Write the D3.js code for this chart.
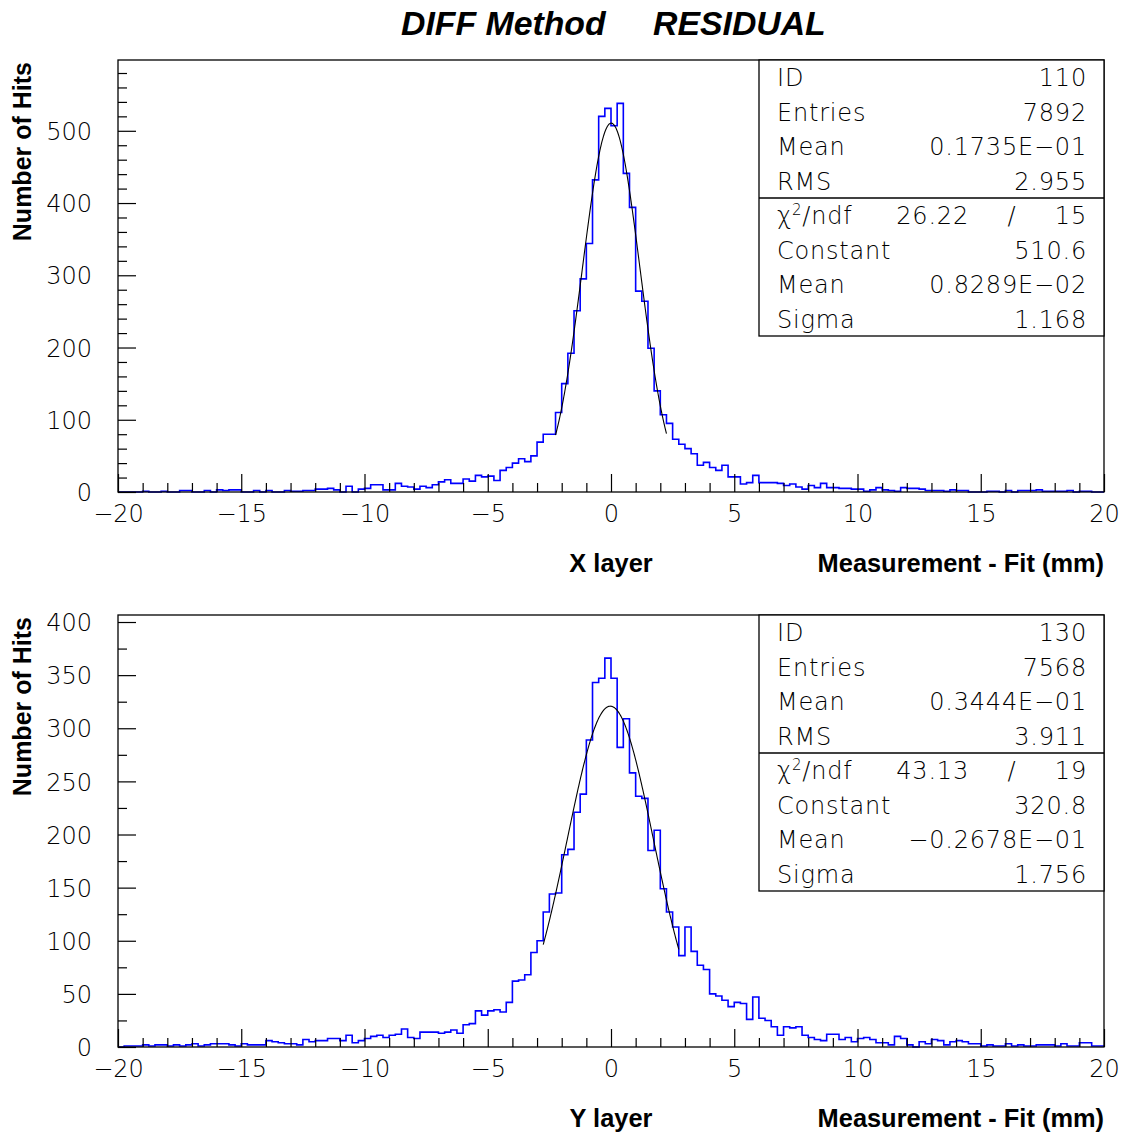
<!DOCTYPE html>
<html>
<head>
<meta charset="utf-8">
<script src="https://cdn.jsdelivr.net/npm/d3@7"></script>
<style>
  body { margin: 0; background: #fff; }
  svg { display: block; }
</style>
</head>
<body>
<script>
// Residual histograms: 160 bins of 0.25 mm between -20 and 20 mm
const binLow = -20, binHigh = 20, binWidth = 0.25;

const xLayerCounts = [
  0,0,0,0,1,0,0,1,0,0,
  2,2,0,0,2,0,3,2,3,3,
  0,0,2,0,2,0,0,2,1,1,
  2,2,4,4,5,3,0,8,0,4,
  5,10,10,3,3,12,8,7,4,8,
  6,10,14,17,12,12,18,15,23,21,
  22,16,30,34,40,46,42,50,69,80,
  80,110,150,192,251,295,344,432,520,531,
  507,538,441,394,278,264,199,140,107,95,
  73,66,60,53,37,41,34,30,37,21,
  21,11,13,23,13,13,13,12,9,11,
  7,4,9,6,12,6,6,5,5,4,
  4,1,3,6,3,2,1,6,5,5,
  4,2,2,2,1,3,2,2,0,0,
  0,1,1,0,2,0,2,2,2,3,
  1,1,1,1,2,0,1,1,0,0
];

const yLayerCounts = [
  0,1,1,1,2,1,2,2,1,2,
  1,2,3,1,2,3,3,3,2,1,
  3,2,2,2,6,5,4,3,3,2,
  7,5,6,6,8,8,6,11,4,6,
  8,10,11,9,11,12,17,9,8,14,
  14,14,13,14,16,13,21,22,34,30,
  34,35,33,42,62,63,68,89,100,127,
  144,145,181,186,221,238,289,343,347,366,
  347,282,309,258,236,234,185,204,149,127,
  113,86,113,90,77,73,50,48,44,38,
  42,41,26,47,27,25,19,11,19,18,
  19,11,9,7,6,12,12,7,9,5,
  8,9,7,4,4,2,10,8,2,0,
  5,3,7,6,2,5,6,5,3,3,
  1,2,1,1,3,1,2,1,1,2,
  2,2,1,3,1,1,4,4,1,1
];

// Axis ticks
const xMajorTicks = [-20, -15, -10, -5, 0, 5, 10, 15, 20];
const xMinorTicks = d3.range(-19, 20, 1).filter(v => v % 5 !== 0);
const xLayerYTicks = [0, 100, 200, 300, 400, 500];
const xLayerYMinor = d3.range(20, 600, 20).filter(v => v % 100 !== 0);
const yLayerYTicks = [0, 50, 100, 150, 200, 250, 300, 350, 400];
const yLayerYMinor = d3.range(25, 400, 50);

// Statistics boxes
const xLayerStatNames  = ["ID", "Entries", "Mean", "RMS"];
const xLayerStatValues = ["110", "7892", "0.1735E\u221201", "2.955"];
const yLayerStatNames  = ["ID", "Entries", "Mean", "RMS"];
const yLayerStatValues = ["130", "7568", "0.3444E\u221201", "3.911"];

// Gaussian fits: constant, mean, sigma and fit range
const fitNames = ["Constant", "Mean", "Sigma"];
const xLayerFit = [510.6, 0.8289e-2, 1.168];
const xLayerFitText = ["510.6", "0.8289E\u221202", "1.168"];
const xLayerChi2 = ["26.22", "15"];
const xLayerFitRange = [-2.25, 2.25];
const yLayerFit = [320.8, -0.2678e-1, 1.756];
const yLayerFitText = ["320.8", "\u22120.2678E\u221201", "1.756"];
const yLayerChi2 = ["43.13", "19"];
const yLayerFitRange = [-2.75, 2.75];

const W = 1128, H = 1135;
const svg = d3.select("body").append("svg")
  .attr("width", W).attr("height", H)
  .attr("viewBox", `0 0 ${W} ${H}`);

const numFont = "'DejaVu Sans', sans-serif";
const boldFont = "'Liberation Sans', Arial, Helvetica, sans-serif";

// Title
svg.append("text")
  .attr("x", 401).attr("y", 35)
  .attr("font-family", boldFont).attr("font-weight", "bold").attr("font-style", "italic")
  .attr("font-size", 33.8).text("DIFF Method");
svg.append("text")
  .attr("x", 653).attr("y", 35)
  .attr("font-family", boldFont).attr("font-weight", "bold").attr("font-style", "italic")
  .attr("font-size", 33.8).text("RESIDUAL");

function drawPanel(p) {
  const left = 118, right = 1104;
  const x = d3.scaleLinear().domain([binLow, binHigh]).range([left, right]);
  const y = d3.scaleLinear().domain([0, p.yMax]).range([p.bottom, p.top]);
  const g = svg.append("g");

  // histogram outline
  const edges = d3.range(p.counts.length + 1).map(i => binLow + i * binWidth);
  const pts = [[edges[0], 0]];
  p.counts.forEach((c, i) => { pts.push([edges[i], c]); pts.push([edges[i + 1], c]); });
  pts.push([edges[edges.length - 1], 0]);
  g.append("path")
    .attr("d", d3.line().x(d => x(d[0])).y(d => y(d[1]))(pts))
    .attr("fill", "none").attr("stroke", "#0000ff").attr("stroke-width", 1.6)
    .attr("stroke-linejoin", "miter");

  // gaussian fit curve
  const [A, mu, sig] = p.fit;
  const fx = d3.range(p.fitRange[0], p.fitRange[1] + 1e-9, 0.02);
  g.append("path")
    .attr("d", d3.line().x(v => x(v)).y(v => y(A * Math.exp(-0.5 * ((v - mu) / sig) ** 2)))(fx))
    .attr("fill", "none").attr("stroke", "#000").attr("stroke-width", 1.1);

  // axes
  const xAxis = g.append("g").attr("transform", `translate(0,${p.bottom})`)
    .call(d3.axisBottom(x).tickValues(xMajorTicks).tickSize(-18).tickPadding(13)
      .tickFormat(d3.format("d")));
  const xMinor = g.append("g").attr("transform", `translate(0,${p.bottom})`)
    .call(d3.axisBottom(x).tickValues(xMinorTicks).tickSize(-9).tickFormat(""));
  const yAxis = g.append("g").attr("transform", `translate(${left},0)`)
    .call(d3.axisLeft(y).tickValues(p.yTicks).tickSize(-18).tickPadding(26)
      .tickFormat(d3.format("d")));
  const yMinor = g.append("g").attr("transform", `translate(${left},0)`)
    .call(d3.axisLeft(y).tickValues(p.yMinor).tickSize(-9).tickFormat(""));
  [xAxis, xMinor, yAxis, yMinor].forEach(a => {
    a.select(".domain").remove();
    a.selectAll("line").attr("stroke", "#000").attr("stroke-width", 1.2);
    a.selectAll("text").attr("font-family", numFont).attr("font-weight", 200)
      .attr("font-size", 24).attr("fill", "#000");
  });
  yAxis.selectAll("text").attr("dy", "0.36em");

  // frame
  g.append("rect")
    .attr("x", left).attr("y", p.top).attr("width", right - left).attr("height", p.bottom - p.top)
    .attr("fill", "none").attr("stroke", "#000").attr("stroke-width", 1.3);

  // statistics box
  const bx = 759, rowH = 34.5, nRows = 8;
  const box = g.append("g");
  box.append("rect")
    .attr("x", bx).attr("y", p.top).attr("width", right - bx).attr("height", rowH * nRows)
    .attr("fill", "#fff").attr("stroke", "#000").attr("stroke-width", 1.3);
  box.append("line")
    .attr("x1", bx).attr("x2", right).attr("y1", p.top + rowH * 4).attr("y2", p.top + rowH * 4)
    .attr("stroke", "#000").attr("stroke-width", 1.3);
  const txt = (xx, row, s, anchor) => box.append("text")
    .attr("x", xx).attr("y", p.top + rowH * row + 26)
    .attr("font-family", numFont).attr("font-weight", 200).attr("font-size", 24)
    .attr("letter-spacing", 0.8)
    .attr("text-anchor", anchor).text(s);
  p.statNames.forEach((n, i) => { txt(777, i, n, "start"); txt(1087, i, p.statValues[i], "end"); });
  const chi = txt(777, 4, "\u03c7", "start");
  chi.append("tspan").attr("dy", -9).attr("font-size", 15).text("2");
  chi.append("tspan").attr("dy", 9).text("/ndf");
  txt(969, 4, p.chi2[0], "end");
  txt(1012, 4, "/", "middle");
  txt(1087, 4, p.chi2[1], "end");
  fitNames.forEach((n, i) => { txt(777, 5 + i, n, "start"); txt(1087, 5 + i, p.fitText[i], "end"); });

  // axis titles
  g.append("text")
    .attr("transform", `translate(31,${p.top + 2}) rotate(-90)`)
    .attr("text-anchor", "end")
    .attr("font-family", boldFont).attr("font-weight", "bold").attr("font-size", 25)
    .text("Number of Hits");
  g.append("text")
    .attr("x", x(0)).attr("y", p.bottom + 80).attr("text-anchor", "middle")
    .attr("font-family", boldFont).attr("font-weight", "bold").attr("font-size", 25.4)
    .text(p.layerLabel);
  g.append("text")
    .attr("x", right).attr("y", p.bottom + 80).attr("text-anchor", "end")
    .attr("font-family", boldFont).attr("font-weight", "bold").attr("font-size", 25.4)
    .text("Measurement - Fit (mm)");
}

drawPanel({
  top: 60, bottom: 492, yMax: 598,
  counts: xLayerCounts, yTicks: xLayerYTicks, yMinor: xLayerYMinor,
  fit: xLayerFit, fitRange: xLayerFitRange, fitText: xLayerFitText, chi2: xLayerChi2,
  statNames: xLayerStatNames, statValues: xLayerStatValues, layerLabel: "X layer"
});
drawPanel({
  top: 615, bottom: 1047, yMax: 406.6,
  counts: yLayerCounts, yTicks: yLayerYTicks, yMinor: yLayerYMinor,
  fit: yLayerFit, fitRange: yLayerFitRange, fitText: yLayerFitText, chi2: yLayerChi2,
  statNames: yLayerStatNames, statValues: yLayerStatValues, layerLabel: "Y layer"
});
</script>
</body>
</html>
